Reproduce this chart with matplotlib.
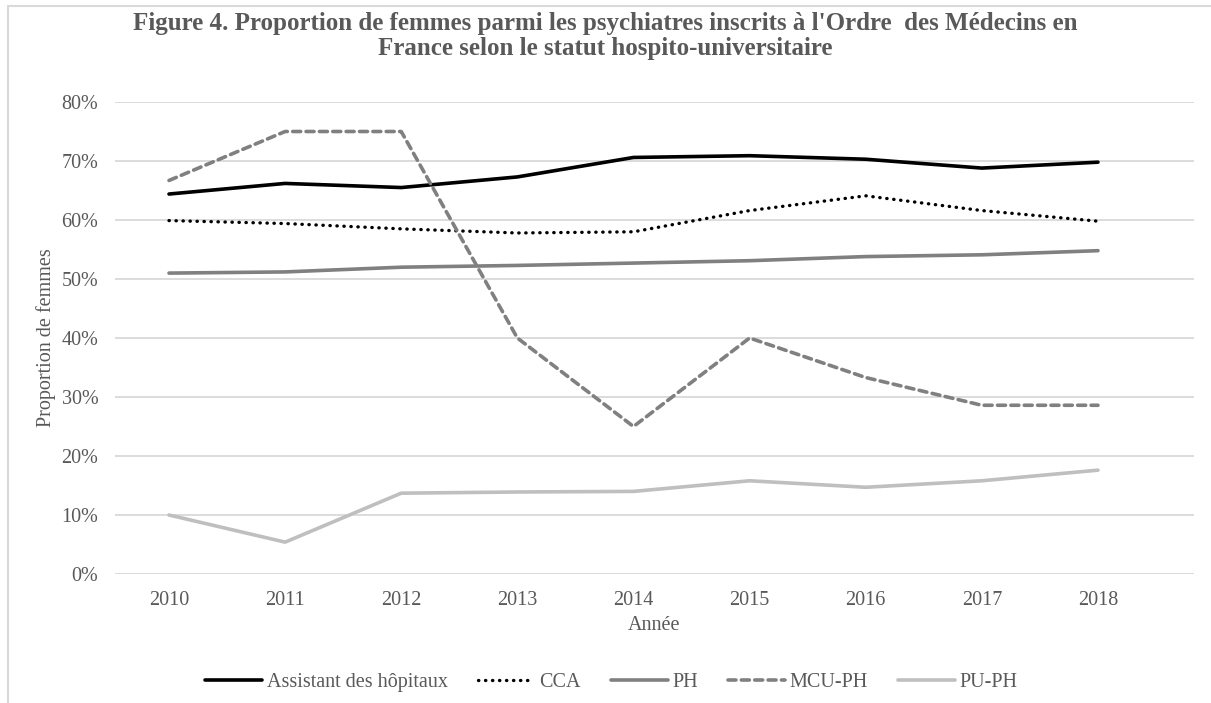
import numpy as np
import matplotlib.pyplot as plt
from matplotlib.patches import Rectangle
from matplotlib.ticker import PercentFormatter

plt.rcParams['font.family'] = ['Liberation Serif', 'DejaVu Serif']

years = [2010, 2011, 2012, 2013, 2014, 2015, 2016, 2017, 2018]

# proportions de femmes (%)
assistant = [64.4, 66.2, 65.5, 67.3, 70.6, 70.9, 70.3, 68.8, 69.8]
cca = [59.9, 59.4, 58.5, 57.8, 58.0, 61.6, 64.1, 61.6, 59.8]
ph = [51.0, 51.2, 52.0, 52.3, 52.7, 53.1, 53.8, 54.1, 54.8]
mcu_ph = [66.7, 75.0, 75.0, 40.0, 25.0, 40.0, 33.3, 28.6, 28.6]
pu_ph = [10.0, 5.4, 13.7, 13.9, 14.0, 15.8, 14.7, 15.8, 17.6]

labels = ["Assistant des hôpitaux", "CCA", "PH", "MCU-PH", "PU-PH"]
title = ("Figure 4. Proportion de femmes parmi les psychiatres inscrits à l'Ordre  des Médecins en\n"
         "France selon le statut hospito-universitaire")

text_color = '#595959'
fs = 14.5

fig = plt.figure(figsize=(12.11, 7.03), dpi=100)
ax = fig.add_axes([115 / 1211, 1 - 574 / 703, (1194 - 115) / 1211, (574 - 102) / 703])

# chart-area border (Excel style)
fig.patches.append(Rectangle((8 / 1211, -0.1), 1.2, 1 - 6 / 703 + 0.1,
                             transform=fig.transFigure, fill=False,
                             edgecolor='#d9d9d9', linewidth=1.5))

ax.plot(years, assistant, color='black', lw=2.6, solid_capstyle='round', label=labels[0])
ax.plot(years, cca, color='black', lw=2.4, linestyle=(0, (0.1, 2.0)),
        dash_capstyle='round', label=labels[1])
ax.plot(years, ph, color='#808080', lw=2.6, solid_capstyle='round', label=labels[2])
ax.plot(years, mcu_ph, color='#808080', lw=2.6, linestyle=(0, (2.2, 1.5)),
        dash_capstyle='round', label=labels[3])
ax.plot(years, pu_ph, color='#bfbfbf', lw=2.6, solid_capstyle='round', label=labels[4])

ax.set_ylim(0, 80)
ax.set_yticks(np.arange(0, 81, 10))
ax.yaxis.set_major_formatter(PercentFormatter(decimals=0))
ax.set_xticks(years)
ax.set_xlim(2009.535, 2018.827)

ax.grid(axis='y', color='#d9d9d9', linewidth=1.3)
ax.set_axisbelow(True)
for s in ax.spines.values():
    s.set_visible(False)
ax.tick_params(length=0, labelsize=fs, colors=text_color)
ax.tick_params(axis='x', pad=12)
ax.tick_params(axis='y', pad=12)

ax.set_xlabel("Année", fontsize=fs, color=text_color)
ax.xaxis.set_label_coords(0.5, -(625 - 574) / 472, transform=ax.transAxes)
ax.xaxis.label.set_va('center')
ax.set_ylabel("Proportion de femmes", fontsize=fs, color=text_color)
ax.yaxis.set_label_coords(-(115 - 56) / 1079, 0.5)

fig.text(0.5, 1 - 36 / 703, title, ha='center', va='center', fontsize=18,
         fontweight='bold', color=text_color, linespacing=1.08)

leg = fig.legend(loc='center', bbox_to_anchor=(0.505, 1 - 682 / 703), ncol=5,
                 frameon=False, fontsize=fs, handlelength=2.8, handletextpad=0.25,
                 columnspacing=1.5)
for t in leg.get_texts():
    t.set_color(text_color)

fig.savefig("out.png", dpi=100)
